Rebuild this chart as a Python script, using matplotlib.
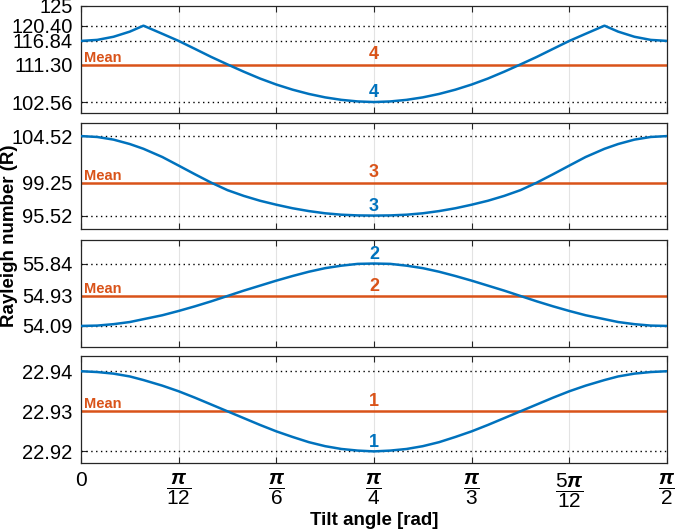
import numpy as np
import matplotlib
matplotlib.use('Agg')
import matplotlib.pyplot as plt

plt.rcParams['font.family'] = ['Liberation Sans', 'DejaVu Sans']
plt.rcParams['mathtext.fontset'] = 'custom'
plt.rcParams['mathtext.rm'] = 'Liberation Sans'
plt.rcParams['mathtext.it'] = 'Liberation Sans:italic:bold'
plt.rcParams['mathtext.bf'] = 'Liberation Sans:bold'

BLUE = '#0072BD'
ORANGE = '#D95319'

# tilt angle in degrees (converted to rad for plotting)
angle_deg = [0, 2.5, 5, 7.5, 9.6, 12.5, 15, 17.5, 20, 22.5, 25, 27.5, 30, 32.5, 35,
             37.5, 40, 42.5, 45, 47.5, 50, 52.5, 55, 57.5, 60, 62.5, 65, 67.5, 70,
             72.5, 75, 77.5, 80.4, 82.5, 85, 87.5, 90]

mode4 = [116.84, 117.08, 117.81, 119.01, 120.40, 118.50, 116.84, 114.98, 113.10,
         111.35, 109.65, 108.05, 106.65, 105.45, 104.45, 103.65, 103.07, 102.70,
         102.56, 102.70, 103.07, 103.65, 104.45, 105.45, 106.65, 108.05, 109.65,
         111.35, 113.10, 114.98, 116.84, 118.50, 120.40, 119.01, 117.81, 117.08,
         116.84]
mode3 = [104.52, 104.42, 104.12, 103.62, 103.08, 102.15, 101.18, 100.20, 99.25,
         98.40, 97.75, 97.20, 96.75, 96.35, 96.03, 95.78, 95.62, 95.54, 95.52,
         95.54, 95.62, 95.78, 96.03, 96.35, 96.75, 97.20, 97.75, 98.40, 99.25,
         100.20, 101.18, 102.15, 103.08, 103.62, 104.12, 104.42, 104.52]
mode2 = [54.09, 54.10, 54.14, 54.20, 54.28, 54.39, 54.51, 54.64, 54.78, 54.93,
         55.08, 55.22, 55.36, 55.49, 55.61, 55.71, 55.78, 55.83, 55.84, 55.83,
         55.78, 55.71, 55.61, 55.49, 55.36, 55.22, 55.08, 54.93, 54.78, 54.64,
         54.51, 54.39, 54.28, 54.20, 54.14, 54.10, 54.09]
mode1 = [22.9400, 22.9398, 22.9394, 22.9387, 22.9378, 22.9364, 22.9350, 22.9334,
         22.9317, 22.9300, 22.9283, 22.9266, 22.9250, 22.9236, 22.9223, 22.9213,
         22.9206, 22.9202, 22.9200, 22.9202, 22.9206, 22.9213, 22.9223, 22.9236,
         22.9250, 22.9266, 22.9283, 22.9300, 22.9317, 22.9334, 22.9350, 22.9364,
         22.9378, 22.9387, 22.9394, 22.9398, 22.9400]

modes = [mode4, mode3, mode2, mode1]
mode_names = ['4', '3', '2', '1']
means = [111.30, 99.25, 54.93, 22.93]
dotted_levels = [[102.56, 116.84, 120.40], [95.52, 104.52], [54.09, 55.84], [22.92, 22.94]]
ytick_vals = [[102.56, 111.30, 116.84, 120.40, 125], [95.52, 99.25, 104.52],
              [54.09, 54.93, 55.84], [22.92, 22.93, 22.94]]
ytick_labels = [['102.56', '111.30', '116.84', '120.40', '125'],
                ['95.52', '99.25', '104.52'],
                ['54.09', '54.93', '55.84'],
                ['22.92', '22.93', '22.94']]
ylims = [(100, 125), (94, 106), (53.5, 56.5), (22.9171, 22.9438)]
# blue label sits above min or max of the curve
blue_at = ['min', 'min', 'max', 'min']

xtick_vals = [0, np.pi / 12, np.pi / 6, np.pi / 4, np.pi / 3, 5 * np.pi / 12, np.pi / 2]
xtick_labels = ['0', r'$\dfrac{\pi}{12}$', r'$\dfrac{\pi}{6}$', r'$\dfrac{\pi}{4}$',
                r'$\dfrac{\pi}{3}$', r'$\dfrac{5\pi}{12}$', r'$\dfrac{\pi}{2}$']

x = np.deg2rad(angle_deg)

fig = plt.figure(figsize=(6.85, 5.30), dpi=100)
bottoms = [0.7868, 0.5679, 0.3453, 0.1264]
heights = [0.2019, 0.2000, 0.2019, 0.2019]

for i in range(4):
    ax = fig.add_axes([0.1182, bottoms[i], 0.8555, heights[i]])
    for lev in dotted_levels[i]:
        ax.axhline(lev, color='black', lw=1.0, ls=(0, (1, 2.5)), zorder=1)
    ax.plot(x, modes[i], color=BLUE, lw=1.8, zorder=3)
    ax.axhline(means[i], color=ORANGE, lw=1.8, zorder=2)

    ax.annotate('Mean', xy=(0.008, means[i]), xytext=(0, 0), textcoords='offset points',
                color=ORANGE, fontsize=10.5, fontweight='bold', ha='left', va='bottom')
    ax.annotate(mode_names[i], xy=(np.pi / 4, means[i]), xytext=(0, 1), textcoords='offset points',
                color=ORANGE, fontsize=13, fontweight='bold', ha='center', va='bottom')
    yb = min(modes[i]) if blue_at[i] == 'min' else max(modes[i])
    ax.annotate(mode_names[i], xy=(np.pi / 4, yb), xytext=(0, 0.5), textcoords='offset points',
                color=BLUE, fontsize=13, fontweight='bold', ha='center', va='bottom')

    ax.set_xlim(0, np.pi / 2)
    ax.set_ylim(*ylims[i])
    ax.set_yticks(ytick_vals[i])
    ax.set_yticklabels(ytick_labels[i])
    ax.set_xticks(xtick_vals)
    ax.grid(True, axis='x', color='#e3e3e3', lw=0.8)
    ax.set_axisbelow(True)
    ax.tick_params(direction='in', top=True, right=False, length=4, width=0.8,
                   labelsize=14.5, colors='#262626', labelcolor='black')
    ax.tick_params(axis='y', pad=6)
    for s in ax.spines.values():
        s.set_color('#262626')
        s.set_linewidth(0.9)
    if i < 3:
        ax.set_xticklabels([])
    else:
        ax.set_xticklabels(xtick_labels, fontsize=15)
        ax.tick_params(axis='x', pad=6)

fig.text(0.014, 0.555, 'Rayleigh number (R)', rotation=90, ha='center', va='center',
         fontsize=13.5, fontweight='bold')
fig.text(0.546, 0.018, 'Tilt angle [rad]', ha='center', va='center',
         fontsize=13.5, fontweight='bold')

fig.savefig('out.png', dpi=100)
